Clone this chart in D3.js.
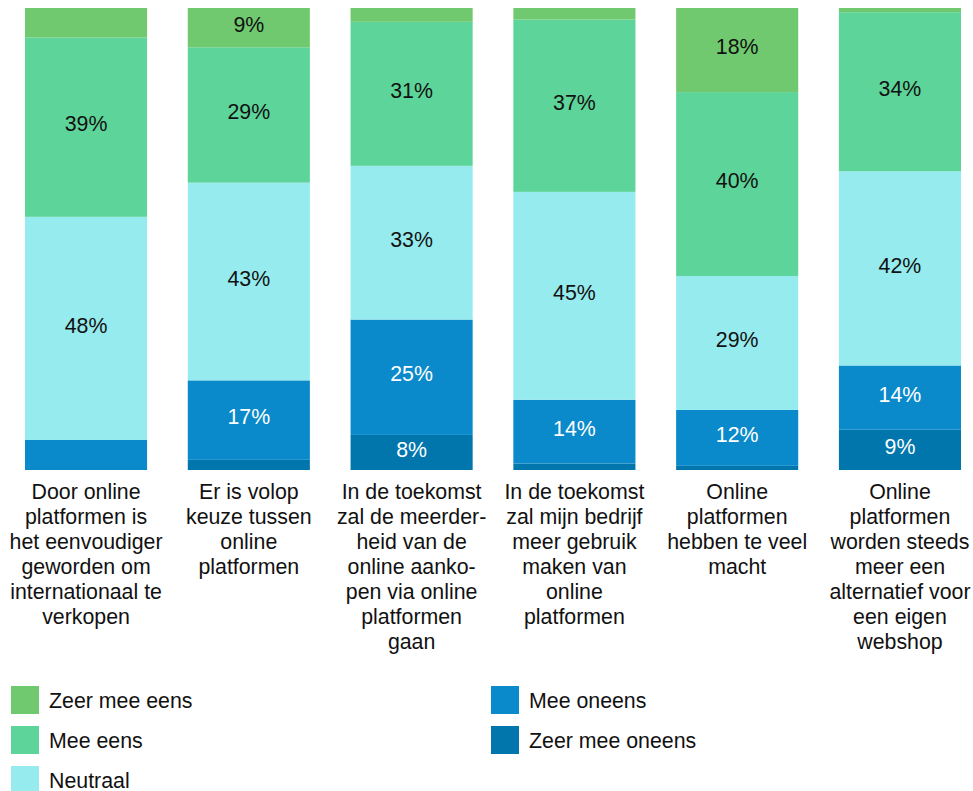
<!DOCTYPE html>
<html>
<head>
<meta charset="utf-8">
<script src="https://cdn.jsdelivr.net/npm/d3@7"></script>
<style>
  html, body { margin: 0; padding: 0; background: #ffffff; }
  svg { display: block; font-family: "Liberation Sans", Arial, sans-serif; }
</style>
</head>
<body>
<svg id="chart" width="973" height="791"></svg>
<script>
// Categories (full statements) and their wrapped tick-label lines
const categories = [
  "Door online platformen is het eenvoudiger geworden om internationaal te verkopen",
  "Er is volop keuze tussen online platformen",
  "In de toekomst zal de meerderheid van de online aankopen via online platformen gaan",
  "In de toekomst zal mijn bedrijf meer gebruik maken van online platformen",
  "Online platformen hebben te veel macht",
  "Online platformen worden steeds meer een alternatief voor een eigen webshop"
];
const tickLines = [
  ["Door online", "platformen is", "het eenvoudiger", "geworden om", "internationaal te", "verkopen"],
  ["Er is volop", "keuze tussen", "online", "platformen"],
  ["In de toekomst", "zal de meerder-", "heid van de", "online aanko-", "pen via online", "platformen", "gaan"],
  ["In de toekomst", "zal mijn bedrijf", "meer gebruik", "maken van", "online", "platformen"],
  ["Online", "platformen", "hebben te veel", "macht"],
  ["Online", "platformen", "worden steeds", "meer een", "alternatief voor", "een eigen", "webshop"]
];

// Series (percent), bottom to top
const seriesNames = ["Zeer mee oneens", "Mee oneens", "Neutraal", "Mee eens", "Zeer mee eens"];
const zeerMeeOneens = [0.0, 2.2, 7.6, 1.4, 0.9, 8.7];
const meeOneens     = [6.5, 17.2, 25.0, 13.8, 12.1, 13.9];
const neutraal      = [48.3, 42.8, 33.3, 45.0, 29.0, 42.0];
const meeEens       = [38.8, 29.3, 31.2, 37.3, 39.8, 34.4];
const zeerMeeEens   = [6.4, 8.5, 3.0, 2.5, 18.2, 0.9];

const colors = {
  "Zeer mee eens": "#70c96e",
  "Mee eens": "#5dd499",
  "Neutraal": "#96ebee",
  "Mee oneens": "#0b8acb",
  "Zeer mee oneens": "#0076ad"
};
const labelColor = {
  "Zeer mee eens": "#111111",
  "Mee eens": "#111111",
  "Neutraal": "#111111",
  "Mee oneens": "#ffffff",
  "Zeer mee oneens": "#ffffff"
};

const legendCol1 = ["Zeer mee eens", "Mee eens", "Neutraal"];
const legendCol2 = ["Mee oneens", "Zeer mee oneens"];

const seriesValues = [zeerMeeOneens, meeOneens, neutraal, meeEens, zeerMeeEens];
const table = categories.map((c, i) => {
  const row = { category: c };
  seriesNames.forEach((s, j) => { row[s] = seriesValues[j][i]; });
  return row;
});

const svg = d3.select("#chart");
const FONT = 21.33;

const x = d3.scaleBand()
  .domain(categories)
  .range([4.65, 981.35])
  .paddingInner(0.25)
  .paddingOuter(0.125);

const y = d3.scaleLinear().domain([0, 1]).range([470, 8]);

const stack = d3.stack().keys(seriesNames).offset(d3.stackOffsetExpand);
const stacked = stack(table);

const layers = svg.append("g").selectAll("g")
  .data(stacked)
  .join("g")
  .attr("fill", d => colors[d.key]);

layers.selectAll("rect")
  .data(d => d)
  .join("rect")
  .attr("x", d => x(d.data.category))
  .attr("width", x.bandwidth())
  .attr("y", d => y(d[1]))
  .attr("height", d => Math.max(0, y(d[0]) - y(d[1])));

// Value labels
const labels = svg.append("g");
stacked.forEach(layer => {
  layer.forEach(d => {
    const v = d.data[layer.key];
    const r = Math.round(v);
    if (r >= 8) {
      labels.append("text")
        .attr("x", x(d.data.category) + x.bandwidth() / 2)
        .attr("y", (y(d[0]) + y(d[1])) / 2)
        .attr("dy", "0.2em")
        .attr("text-anchor", "middle")
        .attr("font-size", FONT)
        .attr("fill", labelColor[layer.key])
        .text(r + "%");
    }
  });
});

// Category axis labels (wrapped)
const xAxis = d3.axisBottom(x).tickSize(0).tickFormat("");
const axisG = svg.append("g").attr("transform", "translate(0,470)").call(xAxis);
axisG.select(".domain").remove();
axisG.selectAll(".tick").each(function(c, i) {
  const t = d3.select(this).append("text")
    .attr("fill", "#111111")
    .attr("font-size", FONT)
    .attr("text-anchor", "middle")
    .attr("font-family", "\"Liberation Sans\", Arial, sans-serif");
  tickLines[i].forEach((line, k) => {
    t.append("tspan").attr("x", 0).attr("y", 28.5 + k * 25).text(line);
  });
});

// Legend
function legendColumn(items, x0) {
  const g = svg.append("g");
  items.forEach((name, i) => {
    const yy = 686 + i * 40;
    g.append("rect").attr("x", x0).attr("y", yy).attr("width", 28).attr("height", 28)
      .attr("fill", colors[name]);
    g.append("text").attr("x", x0 + 38).attr("y", yy + 14).attr("dy", "0.38em")
      .attr("font-size", FONT).attr("fill", "#111111").text(name);
  });
}
legendColumn(legendCol1, 11);
legendColumn(legendCol2, 491);
</script>
</body>
</html>
